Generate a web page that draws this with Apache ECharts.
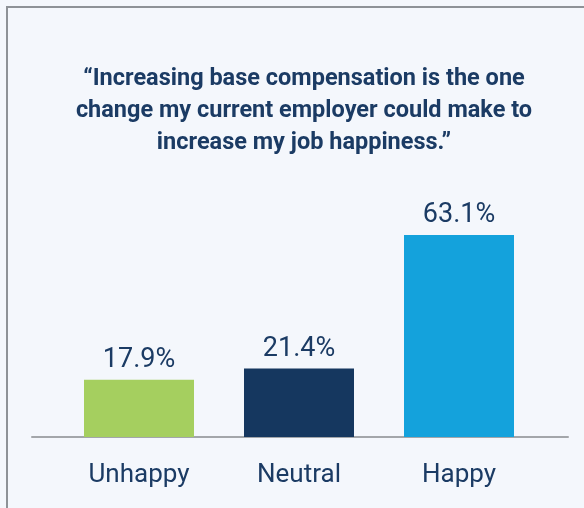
<!DOCTYPE html>
<html>
<head>
<meta charset="utf-8">
<script src="https://cdn.jsdelivr.net/npm/echarts@6/dist/echarts.min.js"></script>
<style>
  html, body { margin: 0; padding: 0; background: #f4f7fc; }
  #wrap { position: relative; width: 584px; height: 508px; overflow: hidden; }
  #frame { position: absolute; left: 6px; top: 6px; width: 600px; height: 600px;
           border-top: 2px solid #8e9297; border-left: 2px solid #8e9297; box-sizing: border-box; }
  #chart { position: absolute; left: 0; top: 0; width: 584px; height: 508px; }
</style>
</head>
<body>
<div id="wrap">
  <div id="frame"></div>
  <div id="chart"></div>
</div>
<script>
const titleLines = [
  '\u201CIncreasing base compensation is the one',
  'change my current employer could make to',
  'increase my job happiness.\u201D'
];
const categories = ['Unhappy', 'Neutral', 'Happy'];
const values = [17.9, 21.4, 63.1];
const barColors = ['#a5cf5f', '#15375f', '#14a2dc'];

const textColor = '#1b3b64';
const chart = echarts.init(document.getElementById('chart'), null, { renderer: 'canvas' });
chart.setOption({
  backgroundColor: 'transparent',
  animation: false,
  title: {
    text: titleLines.join('\n'),
    left: 299,
    top: 58,
    textAlign: 'center',
    textStyle: {
      fontFamily: 'Roboto',
      fontWeight: 'bold',
      fontSize: 23.5,
      lineHeight: 32,
      color: textColor
    }
  },
  grid: [
    { left: 59, right: 45, top: 117, bottom: 71 },
    { left: 32, right: 16, top: 117, bottom: 71 }
  ],
  xAxis: [
    {
      type: 'category',
      gridIndex: 0,
      data: categories,
      axisLine: { show: false },
      axisTick: { show: false },
      axisLabel: {
        margin: 25,
        fontFamily: 'Roboto',
        fontSize: 26,
        color: textColor
      }
    },
    {
      type: 'value',
      gridIndex: 1,
      min: 0, max: 1,
      axisLine: { show: true, lineStyle: { color: '#a3a6aa', width: 2 } },
      axisTick: { show: false },
      axisLabel: { show: false },
      splitLine: { show: false }
    }
  ],
  yAxis: [
    { type: 'value', gridIndex: 0, min: 0, max: 100, show: false },
    { type: 'value', gridIndex: 1, min: 0, max: 1, show: false }
  ],
  series: [{
    type: 'bar',
    xAxisIndex: 0,
    yAxisIndex: 0,
    barWidth: 110,
    data: values.map((v, i) => ({ value: v, itemStyle: { color: barColors[i] } })),
    label: {
      show: true,
      position: 'top',
      distance: 6,
      formatter: p => p.value.toFixed(1) + '%',
      fontFamily: 'Roboto',
      fontSize: 27,
      color: textColor
    },
    z: 3
  }]
});
</script>
</body>
</html>
